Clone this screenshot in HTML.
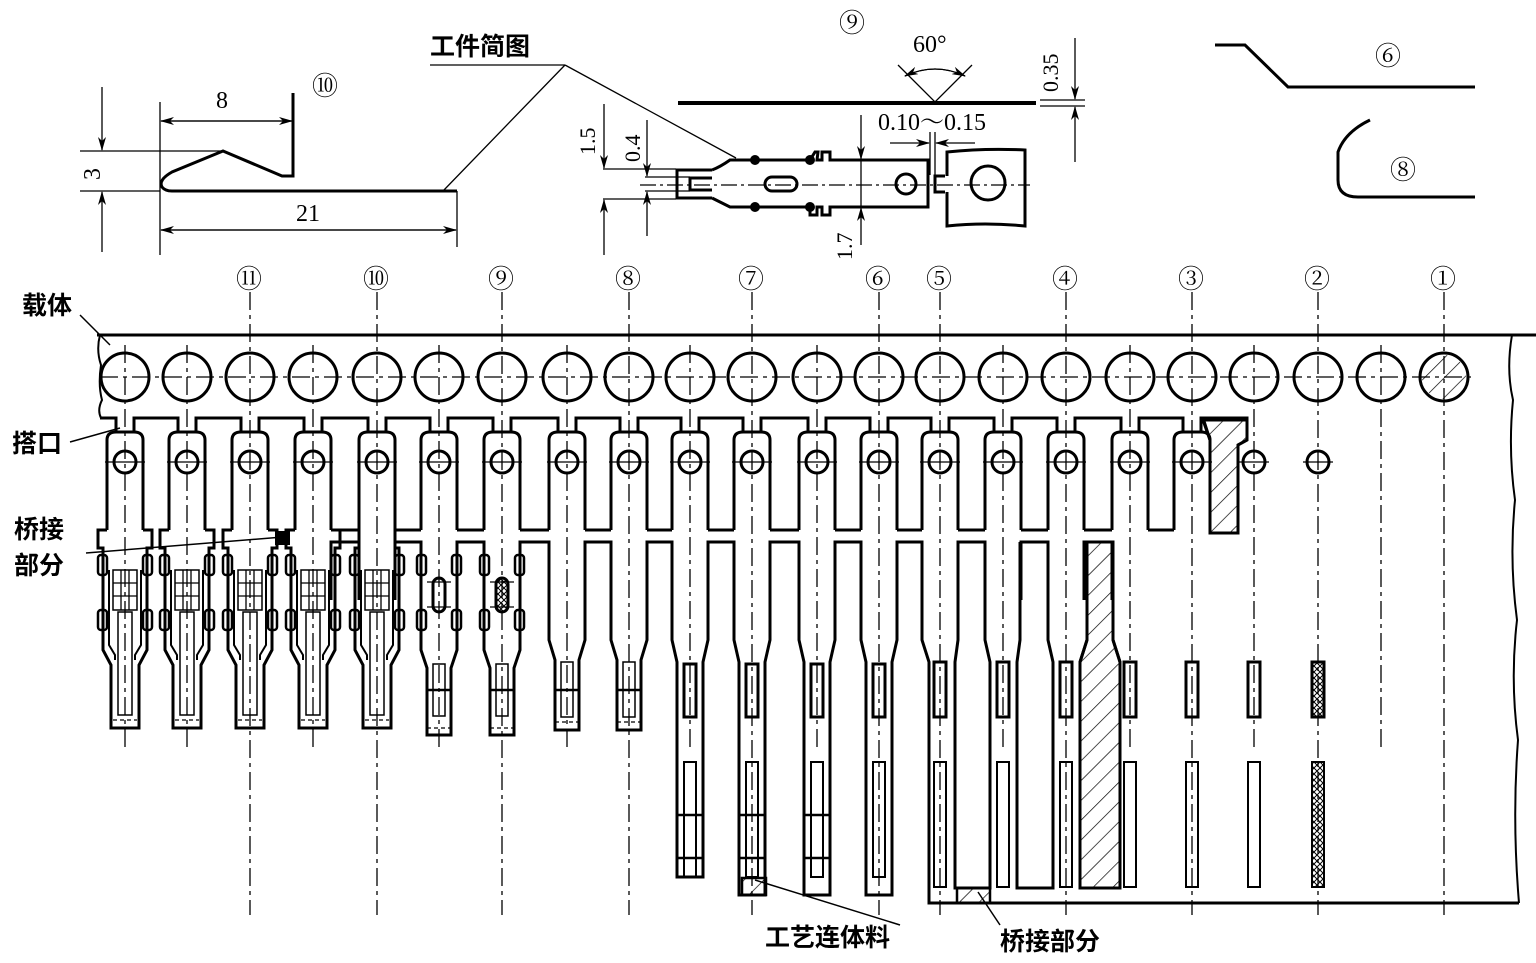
<!DOCTYPE html>
<html><head><meta charset="utf-8">
<style>
html,body{margin:0;padding:0;background:#fff;}
svg{display:block;}
text{font-family:"Liberation Serif","Noto Serif CJK SC",serif;fill:#000;}
.cn{font-family:"Liberation Sans","Noto Sans CJK SC",sans-serif;font-weight:bold;}
</style></head>
<body>
<svg id="s" xmlns="http://www.w3.org/2000/svg" width="1536" height="963" viewBox="0 0 1536 963">
<defs>
<pattern id="h" patternUnits="userSpaceOnUse" width="14" height="14" patternTransform="rotate(45)">
<line x1="0" y1="0" x2="0" y2="14" stroke="#000" stroke-width="1.4"/></pattern>
<pattern id="x" patternUnits="userSpaceOnUse" width="6" height="6">
<path d="M0 0L6 6M6 0L0 6" stroke="#000" stroke-width="1"/></pattern>
<marker id="a" markerWidth="14" markerHeight="8" refX="13" refY="4" orient="auto" markerUnits="userSpaceOnUse">
<path d="M0 0L14 4L0 8L4 4Z" fill="#000"/></marker>
</defs>
<g id="g" fill="none" stroke="#000"></g>

<g fill="none" stroke="#000" stroke-width="1.3">
<line x1="160" y1="102" x2="160" y2="255"/>
<line x1="293" y1="93" x2="293" y2="120"/>
<line x1="457" y1="191" x2="457" y2="247"/>
<line x1="80" y1="151" x2="223" y2="151"/>
<line x1="80" y1="191" x2="160" y2="191"/>
<line x1="161" y1="121" x2="292" y2="121" marker-end="url(#a)"/>
<line x1="292" y1="121" x2="161" y2="121" marker-end="url(#a)"/>
<line x1="161" y1="230" x2="456" y2="230" marker-end="url(#a)"/>
<line x1="456" y1="230" x2="161" y2="230" marker-end="url(#a)"/>
<line x1="102" y1="87" x2="102" y2="150" marker-end="url(#a)"/>
<line x1="102" y1="252" x2="102" y2="192" marker-end="url(#a)"/>
<line x1="430" y1="65" x2="565" y2="65"/>
<line x1="565" y1="65" x2="443" y2="191"/>
<line x1="565" y1="65" x2="736" y2="158"/>
</g>
<path d="M293 93V176H282L223 151L172 172Q158 180 162 187Q165 191 172 191H457" fill="none" stroke="#000" stroke-width="3"/>
<text x="216" y="108" font-size="24">8</text>
<text x="296" y="221" font-size="24">21</text>
<text x="0" y="0" font-size="24" transform="translate(100,180) rotate(-90)">3</text>
<text x="312" y="95" font-size="26">⑩</text>
<text x="430" y="55" font-size="25" class="cn">工件简图</text>

<g fill="none" stroke="#000" stroke-width="3">
<line x1="678" y1="103" x2="1036" y2="103" stroke-width="4"/>
<path d="M712 170H677V198H712 M712 178H690V190H712"/>
<path d="M712 170Q720 167 730 160H810L815 152H818L817 160H822V152H830V160H928V207H830V215H822V207H817V215H810V207H730L712 198"/>
<rect x="765" y="177" width="32" height="14" rx="7"/>
<circle cx="906" cy="184" r="10"/>
<path d="M945 176H935V192H945 M947 176V152Q985 148 1025 150V226Q985 222 947 226V192"/>
<circle cx="988" cy="183" r="17"/>
</g>
<g fill="#000"><circle cx="755" cy="160" r="5"/><circle cx="810" cy="160" r="5"/><circle cx="755" cy="207" r="5"/><circle cx="810" cy="207" r="5"/></g>
<g fill="none" stroke="#000" stroke-width="1.3">
<line x1="640" y1="185" x2="1030" y2="185" stroke-dasharray="16 4 3 4"/>
<line x1="603" y1="169" x2="676" y2="169"/><line x1="603" y1="199" x2="676" y2="199"/>
<line x1="645" y1="177" x2="690" y2="177"/><line x1="645" y1="191" x2="690" y2="191"/>
<line x1="604" y1="104" x2="604" y2="168" marker-end="url(#a)"/>
<line x1="604" y1="255" x2="604" y2="200" marker-end="url(#a)"/>
<line x1="647" y1="120" x2="647" y2="176" marker-end="url(#a)"/>
<line x1="647" y1="236" x2="647" y2="192" marker-end="url(#a)"/>
<line x1="861" y1="115" x2="861" y2="159" marker-end="url(#a)"/>
<line x1="861" y1="245" x2="861" y2="208" marker-end="url(#a)"/>
<line x1="861" y1="159" x2="861" y2="208"/>
<line x1="930" y1="132" x2="930" y2="175"/><line x1="935" y1="132" x2="935" y2="175"/>
<line x1="890" y1="143" x2="929" y2="143" marker-end="url(#a)"/>
<line x1="975" y1="143" x2="936" y2="143" marker-end="url(#a)"/>
<path d="M898 65L935 102L972 65"/>
<path d="M905 76Q935 62 965 76" marker-end="url(#a)"/>
<path d="M965 76Q935 62 905 76" marker-end="url(#a)"/>
<line x1="1040" y1="100" x2="1085" y2="100"/><line x1="1040" y1="106" x2="1085" y2="106"/>
<line x1="1075" y1="38" x2="1075" y2="99" marker-end="url(#a)"/>
<line x1="1075" y1="162" x2="1075" y2="107" marker-end="url(#a)"/>
</g>
<text x="839" y="32" font-size="26">⑨</text>
<text x="913" y="52" font-size="24">60°</text>
<text x="878" y="130" font-size="24">0.10～0.15</text>
<text font-size="22" transform="translate(595,155) rotate(-90)">1.5</text>
<text font-size="22" transform="translate(640,162) rotate(-90)">0.4</text>
<text font-size="22" transform="translate(852,260) rotate(-90)">1.7</text>
<text font-size="22" transform="translate(1058,92) rotate(-90)">0.35</text>

<path d="M1215 45H1245L1288 87H1475" fill="none" stroke="#000" stroke-width="3"/>
<path d="M1370 120Q1345 132 1338 152V180Q1338 197 1358 197H1475" fill="none" stroke="#000" stroke-width="3"/>
<text x="1375" y="65" font-size="26">⑥</text>
<text x="1390" y="179" font-size="26">⑧</text>

<text x="22" y="314" font-size="25" class="cn">载体</text>
<text x="12" y="452" font-size="25" class="cn">搭口</text>
<text x="14" y="538" font-size="25" class="cn">桥接</text>
<text x="14" y="574" font-size="25" class="cn">部分</text>
<text x="765" y="946" font-size="25" class="cn">工艺连体料</text>
<text x="1000" y="950" font-size="25" class="cn">桥接部分</text>
<g stroke="#000" stroke-width="1.5">
<line x1="80" y1="315" x2="110" y2="345"/>
<line x1="70" y1="442" x2="120" y2="428"/>
<line x1="86" y1="553" x2="283" y2="537"/>
<line x1="900" y1="925" x2="755" y2="880"/>
<line x1="1000" y1="925" x2="978" y2="892"/>
</g>

<g font-size="26">
<text x="236" y="288">⑪</text><text x="363" y="288">⑩</text><text x="488" y="288">⑨</text>
<text x="615" y="288">⑧</text><text x="738" y="288">⑦</text><text x="865" y="288">⑥</text>
<text x="926" y="288">⑤</text><text x="1052" y="288">④</text><text x="1178" y="288">③</text>
<text x="1304" y="288">②</text><text x="1430" y="288">①</text>
</g>
</svg>
<script>
var g=document.getElementById('g'),NS='http://www.w3.org/2000/svg';
function el(t,a){var e=document.createElementNS(NS,t);for(var k in a)e.setAttribute(k,a[k]);g.appendChild(e);return e;}
function P(d,w,f){return el('path',{d:d,'stroke-width':w||3,fill:f||'none'});}
function L(x1,y1,x2,y2,w,da){var o={x1:x1,y1:y1,x2:x2,y2:y2,'stroke-width':w||1.3};if(da)o['stroke-dasharray']=da;return el('line',o);}
var C=[125,187,250,313,377,439,502,567,629,690,752,817,879,940,1003,1066,1130,1192,1254,1318,1381,1444];
var ST={250:1,377:1,502:1,629:1,752:1,879:1,940:1,1066:1,1192:1,1318:1,1444:1};
var DD='18 5 4 5';
P('M97 335H1536',3);
P('M100 335Q96 350 101 365Q98 385 102 400Q97 410 101 418',2);
P('M1512 335Q1506 370 1513 400Q1508 450 1515 500Q1509 560 1517 620Q1510 680 1518 740Q1512 820 1519 903',2);
L(100,377,1475,377,1.3,DD);
C.forEach(function(x){el('circle',{cx:x,cy:377,r:24,'stroke-width':3});L(x,ST[x]?292:345,x,ST[x]?915:750,1.3,DD);});
el('circle',{cx:1444,cy:377,r:22,fill:'url(#h)','stroke-width':0});
var p=C.slice(0,18),d='M100 418';
p.forEach(function(x){d+='H'+(x-9)+'V432M'+(x+9)+' 432V418';});
d+='H1247V440L1238 445V533H1210V440L1203 418';
P(d,3);
P('M1203 420H1247V440L1238 445V533H1210V440Z',0,'url(#h)');
p.forEach(function(x,i){
 P('M'+(x-18)+' 530V440Q'+(x-18)+' 432 '+(x-9)+' 432H'+(x+9)+'Q'+(x+18)+' 432 '+(x+18)+' 440V530',3);
 el('circle',{cx:x,cy:462,r:11,'stroke-width':3});L(x-20,462,x+20,462,1.3);
});
for(var i=3;i<17;i++){var a=p[i],b=p[i+1];L(a+18,530,b-18,530,3);}
for(var i=3;i<16;i++){var a=p[i],b=p[i+1];P('M'+(a+18)+' 600V542H'+(b-18)+'V600',3);}
el('rect',{x:275,y:531,width:15,height:14,fill:'#000','stroke-width':0});
for(var i=0;i<5;i++){var x=p[i];
 var f=i<4?27:18;
 P('M'+(x-18)+' 530H'+(x-f)+'V548H'+(x-22)+'V650L'+(x-14)+' 665V728H'+(x+14)+'V665L'+(x+22)+' 650V548H'+(x+f)+'V530H'+(x+18),3);
 [565,620].forEach(function(y){el('rect',{x:x-27,y:y-10,width:9,height:20,rx:3,'stroke-width':2.5});el('rect',{x:x+18,y:y-10,width:9,height:20,rx:3,'stroke-width':2.5});});
 P('M'+(x-16)+' 570V645L'+(x-10)+' 655V660M'+(x+16)+' 570V645L'+(x+10)+' 655V660',2);
 el('rect',{x:x-12,y:570,width:24,height:40,'stroke-width':1.5});
 L(x-12,583,x+12,583,1.3);L(x-12,596,x+12,596,1.3);L(x-4,570,x-4,610,1.3);L(x+4,570,x+4,610,1.3);
 el('rect',{x:x-7,y:612,width:14,height:103,'stroke-width':1.5});
 L(x-12,720,x+12,720,1.3,'4 3');
}
[439,502].forEach(function(x,k){
 P('M'+(x-18)+' 542V650L'+(x-12)+' 668V735H'+(x+12)+'V668L'+(x+18)+' 650V542',3);
 [565,620].forEach(function(y){el('rect',{x:x-22,y:y-10,width:9,height:20,rx:3,'stroke-width':2.5});el('rect',{x:x+13,y:y-10,width:9,height:20,rx:3,'stroke-width':2.5});});
 el('rect',{x:x-6,y:578,width:12,height:34,rx:6,'stroke-width':3,fill:k?'url(#x)':'none'});
 L(x-12,582,x+12,582,1.3);L(x-12,607,x+12,607,1.3);
 el('rect',{x:x-6,y:664,width:12,height:52,'stroke-width':1.5});L(x-12,690,x+12,690,2.5);L(x-12,728,x+12,728,1.3,'4 3');
});
[567,629].forEach(function(x){
 P('M'+(x-18)+' 542V640L'+(x-12)+' 660V730H'+(x+12)+'V660L'+(x+18)+' 640V542',3);
 el('rect',{x:x-6,y:662,width:12,height:55,'stroke-width':1.5});L(x-12,690,x+12,690,2.5);L(x-12,722,x+12,722,1.3,'4 3');
});
[690,752,817,879].forEach(function(x,k){
 var bot=k==0?877:895;
 P('M'+(x-18)+' 542V640L'+(x-13)+' 662V'+bot+'H'+(x+13)+'V662L'+(x+18)+' 640V542',3);
 el('rect',{x:x-6,y:664,width:12,height:53,'stroke-width':3});
 el('rect',{x:x-6,y:762,width:12,height:115,'stroke-width':2});
 if(k<3){L(x-13,815,x+13,815,2.5);L(x-13,858,x+13,858,2.5);}
});
el('rect',{x:742,y:878,width:24,height:17,fill:'url(#h)','stroke-width':2.5});
P('M922 542V640L929 662V903H1519',3);
P('M958 542V640L955 662V888H990V662L985 640V542',3);
P('M1020 542V640L1017 662V888H1053V662L1048 640V542',3);
P('M1087 542V640L1080 662V888H1120V662L1113 640V542Z',0,'url(#h)');
P('M1087 542V640L1080 662V888H1120V662L1113 640V542',3);
el('rect',{x:957,y:888,width:33,height:15,fill:'url(#h)','stroke-width':2.5});
[940,1003,1066,1130,1192,1254,1318].forEach(function(x){
 var fl=x==1318?'url(#x)':'none';
 el('rect',{x:x-6,y:662,width:12,height:55,'stroke-width':3,fill:fl});
 el('rect',{x:x-6,y:762,width:12,height:125,'stroke-width':2,fill:fl});
});
[1254,1318].forEach(function(x){el('circle',{cx:x,cy:462,r:11,'stroke-width':3});L(x-15,462,x+15,462,1.3);});
</script>
</body></html>
